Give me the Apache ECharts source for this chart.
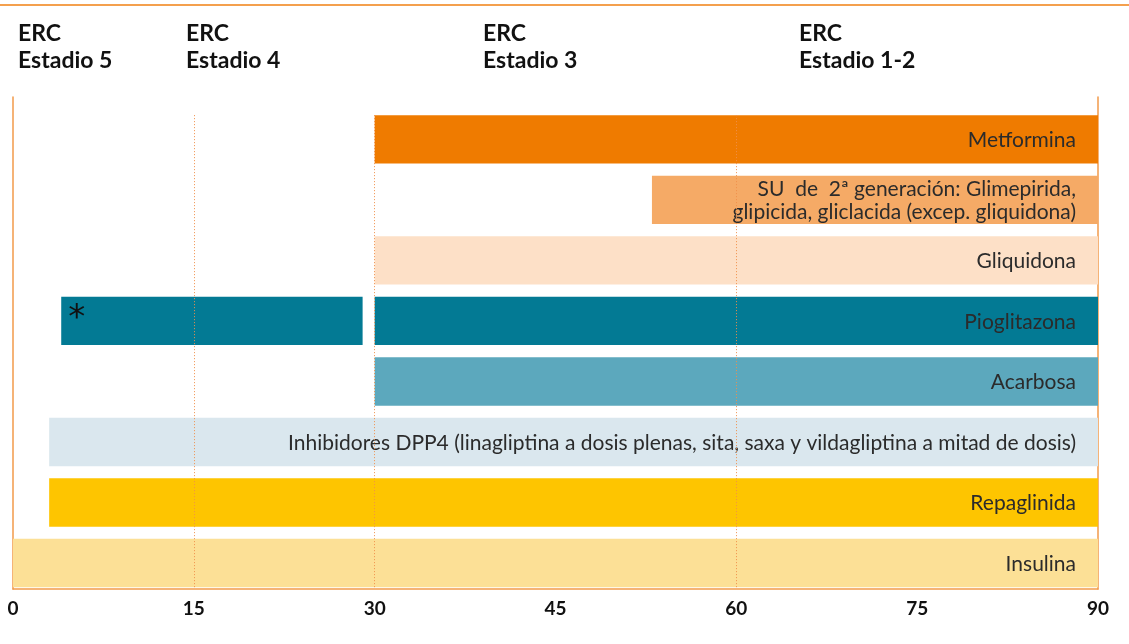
<!DOCTYPE html>
<html>
<head>
<meta charset="utf-8">
<script src="https://cdn.jsdelivr.net/npm/echarts@6/dist/echarts.min.js"></script>
<style>
  html, body { margin: 0; padding: 0; background: #fff; }
  #main { width: 1129px; height: 644px; }
</style>
</head>
<body>
<div id="main"></div>
<script>
// filtrado glomerular (ml/min/1,73 m2) en el eje x
const drugs = [
    'Metformina',
    'SU  de  2ª generación: Glimepirida,\nglipicida, gliclacida (excep. gliquidona)',
    'Gliquidona',
    'Pioglitazona',
    'Acarbosa',
    'Inhibidores DPP4 (linagliptina a dosis plenas, sita, saxa y vildagliptina a mitad de dosis)',
    'Repaglinida',
    'Insulina'
]
const fromGFR = [30, 53, 30, 30, 30, 3, 3, 0]
const toGFR = [90, 90, 90, 90, 90, 90, 90, 90]
const colors = ['#ef7b00', '#f5aa66', '#fde0c7', '#037a94', '#5ca8bd', '#dae7ee', '#fec500', '#fce096']
// tramo extra de pioglitazona (*)
const extraRow = 3
const extraFrom = 4
const extraTo = 29
const xTicks = [0, 15, 30, 45, 60, 75, 90]
const refLines = [15, 30, 60]
const stages = ['ERC\nEstadio 5', 'ERC\nEstadio 4', 'ERC\nEstadio 3', 'ERC\nEstadio 1-2']
const stageX = [18, 186, 483, 799]

const orange = '#f29a4a'

let chart = echarts.init(document.getElementById('main'))

let barData = drugs.map((d, i) => [i, fromGFR[i], toGFR[i], d, ''])
barData.push([extraRow, extraFrom, extraTo, '', '*'])

function renderBar(params, api) {
    let row = api.value(0)
    let p0 = api.coord([api.value(1), row])
    let p1 = api.coord([api.value(2), row])
    let h = api.size([0, 0.8])[1]
    let idx = params.dataIndex
    let item = barData[idx]
    let children = [{
        type: 'rect',
        shape: { x: p0[0], y: p0[1] - h / 2, width: p1[0] - p0[0], height: h },
        style: { fill: colors[row] }
    }]
    if (item[3]) {
        children.push({
            type: 'text',
            style: {
                x: p1[0] - 22, y: p0[1] + 1,
                text: item[3],
                align: 'right', verticalAlign: 'middle',
                fill: '#2b2b2b',
                font: '21px Lato',
                lineHeight: 23
            }
        })
    }
    if (item[4]) {
        children.push({
            type: 'text',
            style: {
                x: p0[0] + 7, y: p0[1] - h / 2 + 5,
                text: item[4],
                align: 'left', verticalAlign: 'top',
                fill: '#111',
                font: '34px "DejaVu Sans"'
            }
        })
    }
    return { type: 'group', children: children }
}

let graphics = [{
    type: 'rect',
    shape: { x: 0, y: 4, width: 1129, height: 2 },
    style: { fill: '#f4a04e' }
}]
stages.forEach((s, i) => {
    graphics.push({
        type: 'text',
        left: stageX[i], top: 20,
        style: { text: s, font: 'bold 23px Lato', fill: '#111', lineHeight: 27 }
    })
})

let yAx = {
    type: 'value', inverse: true, min: -0.7, max: 7.43,
    axisLine: { show: true, lineStyle: { color: orange, width: 1.5 } },
    axisTick: { show: false }, axisLabel: { show: false }, splitLine: { show: false }
}

var option = {
    animation: false,
    grid: { left: 13, right: 31, top: 97, bottom: 55 },
    xAxis: {
        type: 'value', min: 0, max: 90, interval: 15,
        axisLine: { show: true, onZero: false, lineStyle: { color: orange, width: 1.5 } },
        axisTick: { show: false },
        splitLine: { show: false },
        axisLabel: {
            margin: 10, color: '#111', fontSize: 19, fontWeight: 'bold', fontFamily: 'Lato',
            formatter: v => xTicks.indexOf(v) >= 0 ? v : ''
        }
    },
    yAxis: [Object.assign({ position: 'left' }, yAx), Object.assign({ position: 'right' }, yAx)],
    graphic: graphics,
    series: [
        {
            type: 'line', data: [], silent: true, z: 1,
            markLine: {
                symbol: 'none', silent: true,
                label: { show: false },
                lineStyle: { color: '#f0904a', type: [1, 2], width: 1 },
                data: refLines.map(v => [{ coord: [v, -0.4] }, { coord: [v, 7.43] }])
            }
        },
        {
            type: 'custom', z: 3,
            renderItem: renderBar,
            encode: { x: [1, 2], y: 0 },
            data: barData
        }
    ]
}
chart.setOption(option)
</script>
</body>
</html>
